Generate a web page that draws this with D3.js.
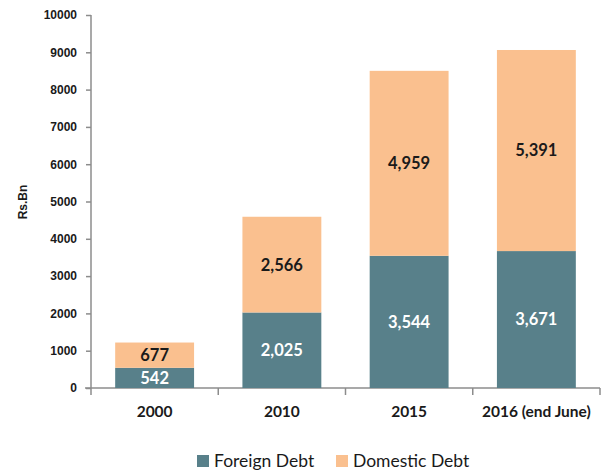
<!DOCTYPE html>
<html><head><meta charset="utf-8">
<script src="https://cdn.jsdelivr.net/npm/d3@7"></script>
<style>body{margin:0;background:#fff}</style>
</head><body>
<svg id="c" width="601" height="475"></svg>
<script>
const categories = ["2000", "2010", "2015", "2016 (end June)"];
const foreignDebt = [542, 2025, 3544, 3671];
const domesticDebt = [677, 2566, 4959, 5391];
const yTicks = [0,1000,2000,3000,4000,5000,6000,7000,8000,9000,10000];
const seriesNames = ["Foreign Debt", "Domestic Debt"];
const colors = ["#58808A", "#FAC08F"];

const svg = d3.select("#c");
const x0 = 91, x1 = 600, yTop = 15, yBot = 388;
const x = d3.scaleBand().domain(categories).range([x0, x1]).paddingInner(0.38).paddingOuter(0.19);
const y = d3.scaleLinear().domain([0, 10000]).range([yBot, yTop]);
const font = "'Liberation Sans', Arial, sans-serif";
const font2 = "Lato, 'Open Sans', sans-serif";

const data = categories.map((c,i)=>({cat:c, Foreign:foreignDebt[i], Domestic:domesticDebt[i]}));
const stack = d3.stack().keys(["Foreign","Domestic"])(data);

// y axis
const ya = svg.append("g").attr("transform",`translate(${x0},0)`)
  .call(d3.axisLeft(y).tickValues(yTicks).tickSize(5).tickPadding(9).tickFormat(d3.format("d")));
ya.select(".domain").attr("stroke","#8c8c8c").attr("stroke-width",1.5).attr("d",`M0,${yTop}V${yBot}`);
ya.selectAll(".tick line").attr("stroke","#8c8c8c").attr("stroke-width",1.5);
ya.selectAll(".tick text").attr("font-family",font).attr("font-size","12px").attr("font-weight","bold").attr("fill","#1a1a1a");

// x axis
const xa = svg.append("g").attr("transform",`translate(0,${yBot})`);
xa.append("line").attr("x1",x0-6).attr("x2",x1).attr("y1",0).attr("y2",0).attr("stroke","#8c8c8c").attr("stroke-width",1.5);
const bounds = categories.map((c,i)=> x0 + i*(x1-x0)/categories.length).concat([x1]);
xa.selectAll("line.t").data(bounds).enter().append("line").attr("class","t")
  .attr("x1",d=>d).attr("x2",d=>d).attr("y1",0).attr("y2",7).attr("stroke","#8c8c8c").attr("stroke-width",1.5);
xa.selectAll("text").data(categories).enter().append("text")
  .attr("x",d=>x(d)+x.bandwidth()/2).attr("y",29).attr("text-anchor","middle")
  .attr("font-family",font2).attr("font-size","15.5px").attr("font-weight","bold").attr("fill","#1a1a1a").text(d=>d);

// y title
svg.append("text").attr("transform","translate(27,202) rotate(-90)").attr("text-anchor","middle")
  .attr("font-family",font).attr("font-size","12px").attr("font-weight","bold").attr("fill","#1a1a1a").text("Rs.Bn");

// bars
const g = svg.append("g");
stack.forEach((s,si)=>{
  g.selectAll(null).data(s).enter().append("rect")
    .attr("x",d=>x(d.data.cat)).attr("width",x.bandwidth())
    .attr("y",d=>y(d[1])).attr("height",d=>y(d[0])-y(d[1])).attr("fill",colors[si]);
  g.selectAll(null).data(s).enter().append("text")
    .attr("x",d=>x(d.data.cat)+x.bandwidth()/2).attr("y",d=>(y(d[0])+y(d[1]))/2)
    .attr("dy","0.36em").attr("text-anchor","middle")
    .attr("font-family",font2).attr("font-size","16.5px").attr("font-weight","bold")
    .attr("fill", si===0 ? "#ffffff" : "#1a1a1a")
    .text(d=>d3.format(",")(d[1]-d[0]));
});

// legend
const lg = svg.append("g");
const lx = [197, 336];
seriesNames.forEach((n,i)=>{
  lg.append("rect").attr("x",lx[i]).attr("y",455).attr("width",12).attr("height",12).attr("fill",colors[i]);
  lg.append("text").attr("x",lx[i]+17).attr("y",467).attr("font-family",font2).attr("font-size","17.5px").attr("fill","#1a1a1a").text(n);
});
</script>
</body></html>
